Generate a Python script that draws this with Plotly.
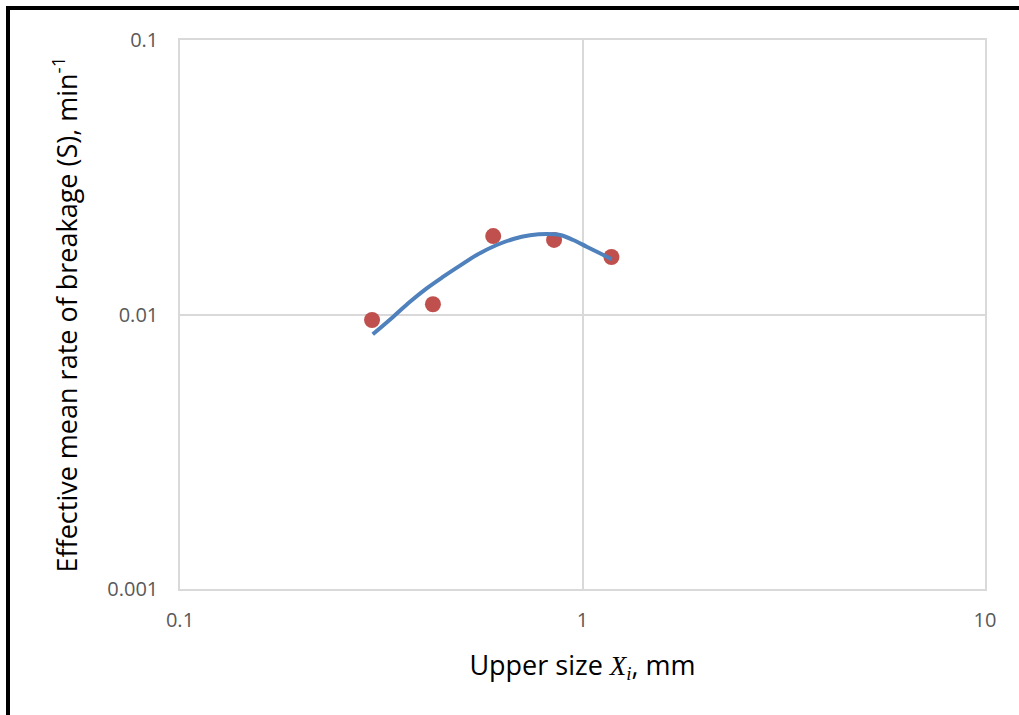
import plotly.graph_objects as go

# measured data points
size_mm = [0.30, 0.425, 0.60, 0.85, 1.18]
rate_S = [0.00955, 0.0109, 0.0193, 0.0187, 0.0162]

# fitted curve
fit_x = [0.3012, 0.3388, 0.3727, 0.4101, 0.4510, 0.4962, 0.5459, 0.6119,
         0.6730, 0.7406, 0.8147, 0.8792, 0.9486, 1.024, 1.105, 1.182]
fit_y = [0.00847, 0.00982, 0.01113, 0.01245, 0.01373, 0.01506, 0.01647, 0.01791,
         0.01884, 0.01943, 0.01965, 0.01948, 0.01868, 0.01766, 0.01671, 0.01589]

x_ticks = [0.1, 1, 10]
x_tick_labels = ["0.1", "1", "10"]
y_ticks = [0.001, 0.01, 0.1]
y_tick_labels = ["0.001", "0.01", "0.1"]

W, H = 1019, 715
L, R, T, B = 180, 34, 40, 126
pw, ph = W - L - R, H - T - B

fig = go.Figure()
fig.add_trace(go.Scatter(x=size_mm, y=rate_S, mode="markers",
                         marker=dict(color="#C0504D", size=16), showlegend=False))
fig.add_trace(go.Scatter(x=fit_x, y=fit_y, mode="lines", line_shape="spline",
                         line=dict(color="#4F81BD", width=4), showlegend=False))

tick_font = dict(family="Open Sans", size=20, color="#595959")
axis_common = dict(showgrid=True, gridcolor="#D9D9D9", gridwidth=1.5,
                   showline=True, linecolor="#D9D9D9", linewidth=1.5, mirror=True,
                   zeroline=False, ticks="", tickfont=tick_font)

fig.update_xaxes(type="log", range=[-1, 1], tickvals=x_ticks, ticktext=x_tick_labels,
                 ticklabelstandoff=12,
                 title=dict(text="Upper size <i><span style='font-family:Liberation Serif'>X<sub>i</sub></span></i>, mm",
                            font=dict(family="Open Sans", size=27, color="black"), standoff=24),
                 **axis_common)
fig.update_yaxes(type="log", range=[-3, -1], tickvals=y_ticks, ticktext=y_tick_labels,
                 ticklabelstandoff=16,
                 title=dict(text="Effective mean rate of breakage (S), min<sup>-1</sup>",
                            font=dict(family="Open Sans", size=27, color="black"), standoff=22),
                 **axis_common)

# outer black frame
bx = (8 - L) / pw
by = 1 + (T - 8) / ph
fig.add_shape(type="rect", xref="paper", yref="paper",
              x0=bx, x1=(W + 10 - L) / pw, y0=-(B + 20) / ph, y1=by,
              line=dict(color="black", width=4), layer="above")

fig.update_layout(width=W, height=H, margin=dict(l=L, r=R, t=T, b=B),
                  paper_bgcolor="white", plot_bgcolor="white")

fig.write_html("out.html")
